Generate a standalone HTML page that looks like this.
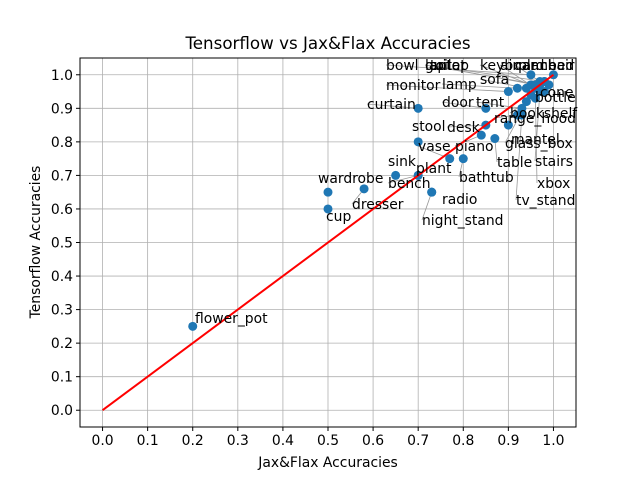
<!DOCTYPE html>
<html><head><meta charset="utf-8"><style>body{margin:0;background:#fff}svg text{font-family:"DejaVu Sans","Liberation Sans",sans-serif}</style></head>
<body>
<svg id="chart" width="640" height="480" xmlns="http://www.w3.org/2000/svg">
<rect width="640" height="480" fill="#fff"/>
<text x="328" y="49" font-size="16.7" text-anchor="middle">Tensorflow vs Jax&amp;Flax Accuracies</text>
<text x="328" y="467" font-size="13.9" text-anchor="middle">Jax&amp;Flax Accuracies</text>
<text transform="translate(40,242) rotate(-90)" font-size="13.9" text-anchor="middle">Tensorflow Accuracies</text>
<g id="grid"></g><g id="lines"></g><g id="marks"></g><g id="diag"></g><g id="labels"></g>
<rect x="80" y="58" width="496" height="369" fill="none" stroke="#000" stroke-width="1"/>
</svg>
<script>
const names=["bed","chair","car","keyboard","airplane","laptop","guitar","toilet","bowl","sofa","lamp","monitor","curtain","door","tent","cone","bottle","bookshelf","range_hood","stool","desk","mantel","glass_box","vase","piano","stairs","table","sink","plant","bench","bathtub","wardrobe","xbox","tv_stand","dresser","radio","night_stand","cup","flower_pot"];
const jaxAcc=[1.00,0.98,0.97,0.95,0.96,0.97,0.98,0.96,0.95,0.94,0.92,0.90,0.70,0.85,0.93,0.99,0.98,0.94,0.92,0.70,0.85,0.90,0.95,0.77,0.84,0.97,0.87,0.65,0.70,0.70,0.80,0.50,0.96,0.93,0.58,0.73,0.73,0.50,0.20];
const tfAcc=[1.00,0.98,0.98,0.97,0.96,0.97,0.98,0.97,1.00,0.96,0.96,0.95,0.90,0.90,0.90,0.97,0.95,0.92,0.88,0.80,0.85,0.85,0.94,0.75,0.82,0.95,0.81,0.70,0.70,0.70,0.75,0.65,0.93,0.88,0.66,0.65,0.65,0.60,0.25];
const labelX=[548,540,515,480,500,425,425,430,386,480,442,386,367,442,476,540,535,510,494,412,447,511,505,418,455,535,497,388,416,388,459,318,537,516,352,442,422,326,195];
const labelY=[65,65,65,65,65,65,65,65,65,79,84,85,104,102,102,92,97,113,118,126,127,139,143,146,146,161,162,161,168,183,177,178,183,200,204,199,220,216,318];
const ticks=[0,0.1,0.2,0.3,0.4,0.5,0.6,0.7,0.8,0.9,1.0];
const X0=80,X1=576,Y0=427,Y1=58;
const sx=v=>X0+(v+0.05)/1.1*(X1-X0);
const sy=v=>Y0-(v+0.05)/1.1*(Y0-Y1);
const NS="http://www.w3.org/2000/svg";
function mk(tag,attrs,parent){const e=document.createElementNS(NS,tag);for(const k in attrs)e.setAttribute(k,attrs[k]);document.getElementById(parent).appendChild(e);return e;}
ticks.forEach(t=>{
 const gx=mk('line',{x1:sx(t),x2:sx(t),y1:Y1,y2:Y0,stroke:'#b0b0b0','stroke-width':0.8},'grid');
 
 
 const gy=mk('line',{x1:X0,x2:X1,y1:sy(t),y2:sy(t),stroke:'#b0b0b0','stroke-width':0.8},'grid');
 
 
 mk('line',{x1:sx(t),x2:sx(t),y1:Y0,y2:Y0+4,stroke:'#000'},'grid');
 mk('line',{x1:X0-4,x2:X0,y1:sy(t),y2:sy(t),stroke:'#000'},'grid');
 const tx=mk('text',{x:sx(t),y:Y0+18,'font-size':13.9,'text-anchor':'middle'},'grid');
 tx.textContent=t.toFixed(1);
 
 
 const ty=mk('text',{x:X0-7,y:sy(t)+5,'font-size':13.9,'text-anchor':'end'},'grid');
 ty.textContent=t.toFixed(1);
 
 
});
const diag=mk('line',{x1:sx(0),y1:sy(0),x2:sx(1),y2:sy(1),stroke:'#ff0000','stroke-width':2},'diag');


names.forEach((n,i)=>{
 const px=sx(jaxAcc[i]),py=sy(tfAcc[i]);
 const lx=labelX[i],ly=labelY[i];
 if(Math.hypot(lx-px,ly-py)>18){
  const ln=mk('line',{x1:lx,y1:ly,x2:px,y2:py,stroke:'#999','stroke-width':0.8},'lines');
  
  
 }
 const c=mk('circle',{cx:px,cy:py,r:4.5,fill:'#1f77b4'},'marks');
 
 
 const t=mk('text',{x:lx,y:ly+5,'font-size':13.9},'labels');
 t.textContent=n;
 
 
});
</script>
</body></html>
